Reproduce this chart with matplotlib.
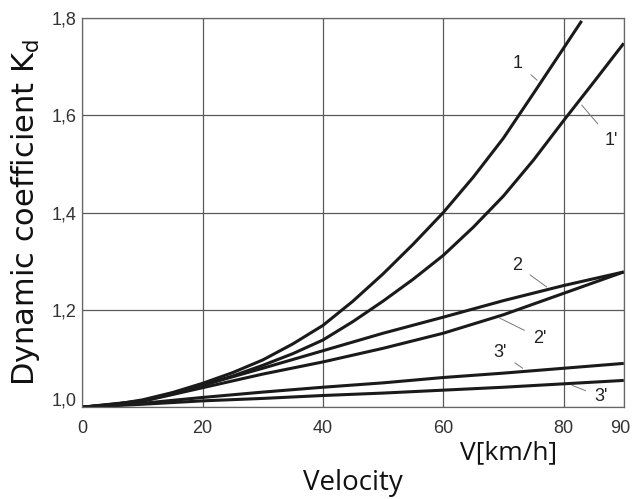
import numpy as np
import matplotlib.pyplot as plt
from matplotlib.transforms import ScaledTranslation

# values
v_1 = [0, 5, 10, 15, 20, 25, 30, 35, 40, 45, 50, 55, 60, 65, 70, 75, 80, 83]
kd_1 = [1.000, 1.005, 1.015, 1.030, 1.049, 1.071, 1.097, 1.130, 1.168, 1.218,
        1.274, 1.335, 1.400, 1.473, 1.553, 1.645, 1.738, 1.794]

v_full = [0, 5, 10, 15, 20, 25, 30, 35, 40, 45, 50, 55, 60, 65, 70, 75, 80, 85, 90]
kd_1p = [1.000, 1.004, 1.013, 1.027, 1.045, 1.064, 1.086, 1.110, 1.138, 1.176,
         1.218, 1.263, 1.312, 1.370, 1.434, 1.508, 1.589, 1.668, 1.748]

v_10 = [0, 10, 20, 30, 40, 50, 60, 70, 80, 90]
kd_2 = [1.000, 1.013, 1.045, 1.080, 1.116, 1.152, 1.185, 1.219, 1.250, 1.278]
kd_2p = [1.000, 1.012, 1.040, 1.068, 1.093, 1.121, 1.152, 1.190, 1.234, 1.278]
kd_3p_up = [1.000, 1.008, 1.020, 1.031, 1.041, 1.050, 1.061, 1.070, 1.080, 1.090]
kd_3p_lo = [1.000, 1.006, 1.013, 1.018, 1.024, 1.029, 1.035, 1.041, 1.048, 1.055]

xticks = [0, 20, 40, 60, 80, 90]
yticks = [1.0, 1.2, 1.4, 1.6, 1.8]
ytick_labels = ['1,0', '1,2', '1,4', '1,6', '1,8']

narrow = ['Liberation Sans', 'DejaVu Sans']
big = ['Open Sans', 'DejaVu Sans']

fig = plt.figure(figsize=(6.32, 4.99), dpi=100)
ax = fig.add_axes([0.130, 0.184, 0.857, 0.780])

lw = 2.2
for xs, ys in [(v_1, kd_1), (v_full, kd_1p), (v_10, kd_2), (v_10, kd_2p),
               (v_10, kd_3p_up), (v_10, kd_3p_lo)]:
    ax.plot(xs, ys, color='#1a1a1a', lw=lw, solid_capstyle='butt')

ax.set_xlim(0, 90)
ax.set_ylim(1.0, 1.8)
ax.set_xticks(xticks)
ax.set_xticklabels([str(t) for t in xticks], fontfamily=narrow, fontsize=13)
ax.set_yticks(yticks)
ax.set_yticklabels(ytick_labels, fontfamily=narrow, fontsize=13)
ax.tick_params(axis='x', length=0, pad=9, colors='#333333')
ax.tick_params(axis='y', length=0, pad=4, colors='#333333')
ax.grid(True, color='#5a5a5a', lw=0.9)
ax.set_axisbelow(True)
for s in ax.spines.values():
    s.set_color('#666666')
    s.set_linewidth(0.9)

# lift the bottom y label a bit, pull the last x label inside
lbl = ax.get_yticklabels()[0]
lbl.set_transform(lbl.get_transform() + ScaledTranslation(0, 6 / 72, fig.dpi_scale_trans))
lbl = ax.get_xticklabels()[-1]
lbl.set_transform(lbl.get_transform() + ScaledTranslation(-4 / 100, 0, fig.dpi_scale_trans))

# curve labels with thin leader lines
notes = [
    ("1", (72.4, 1.707), (75.6, 1.672)),
    ("1'", (88.0, 1.549), (83.0, 1.621)),
    ("2", (72.2, 1.292), (77.2, 1.247)),
    ("2'", (76.1, 1.142), (69.4, 1.183)),
    ("3'", (69.4, 1.113), (73.2, 1.080)),
    ("3'", (86.3, 1.021), (81.4, 1.045)),
]
for txt, tpos, cpos in notes:
    ax.annotate(txt, xy=cpos, xytext=tpos, fontsize=13, fontfamily=narrow,
                color='#222222', ha='center', va='center',
                arrowprops=dict(arrowstyle='-', color='#777777', lw=0.7,
                                shrinkA=5, shrinkB=0))

fig.text(0.040, 0.575, 'Dynamic coefficient K$_\\mathregular{d}$',
         fontfamily=['DejaVu Sans'], fontsize=22, rotation=90,
         ha='center', va='center', color='#111111')
fig.text(0.804, 0.080, 'V[km/h]', fontfamily=big, fontsize=19,
         ha='center', va='baseline', color='#111111')
fig.text(0.559, 0.018, 'Velocity', fontfamily=big, fontsize=20,
         ha='center', va='baseline', color='#111111')

fig.savefig('out.png', dpi=100)
